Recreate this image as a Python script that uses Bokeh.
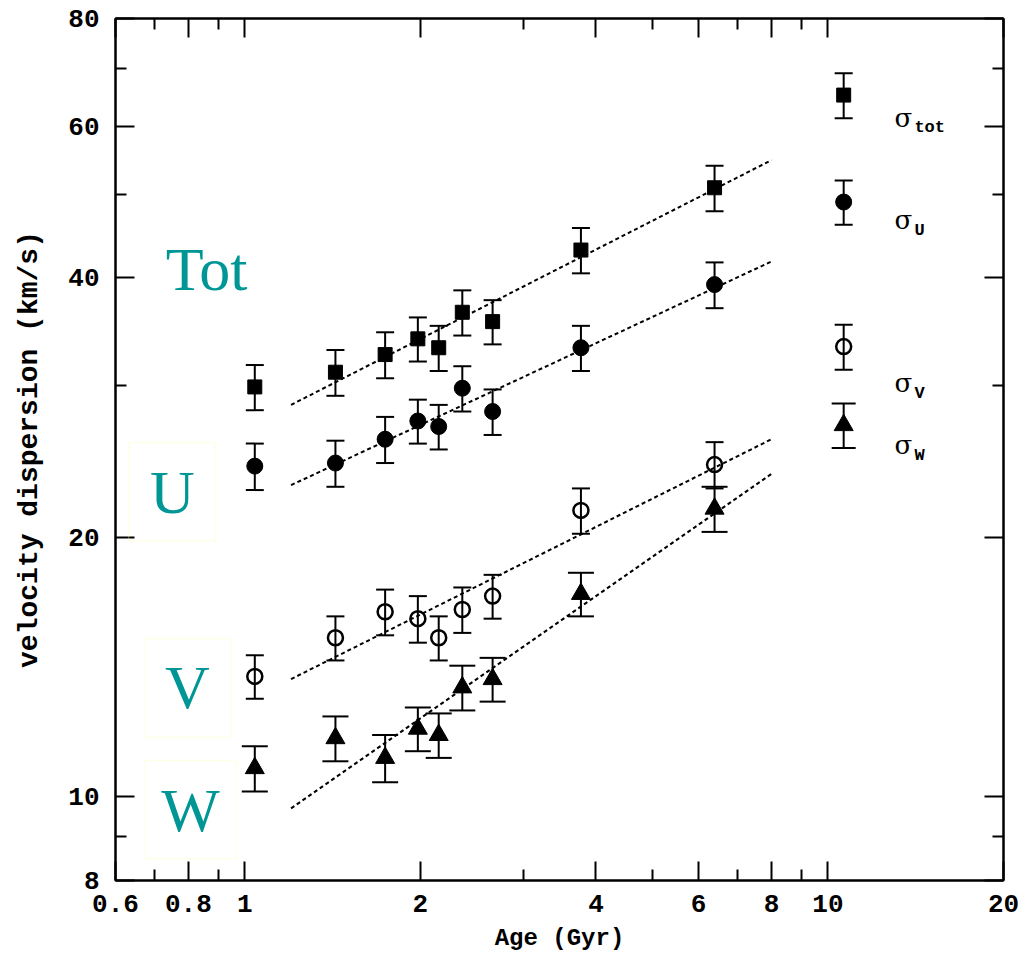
from bokeh.plotting import figure
from bokeh.models import (ColumnDataSource, Whisker, TeeHead, FixedTicker, LogAxis,
                          CustomJSTickFormatter, BoxAnnotation, Label)
from bokeh.embed import file_html
from bokeh.resources import INLINE

# ---- data ----
age = [1.04, 1.43, 1.74, 1.98, 2.15, 2.36, 2.66, 3.77, 6.39]
sig_tot = [29.9, 31.1, 32.6, 34.0, 33.2, 36.5, 35.6, 43.1, 50.9]
err_tot = [1.8, 1.9, 2.0, 2.0, 2.0, 2.2, 2.1, 2.6, 3.1]
sig_u = [24.2, 24.4, 26.0, 27.3, 26.9, 29.8, 28.0, 33.2, 39.3]
err_u = [1.5, 1.5, 1.6, 1.6, 1.6, 1.8, 1.7, 2.0, 2.4]
sig_v = [13.8, 15.3, 16.4, 16.1, 15.3, 16.5, 17.1, 21.5, 24.3]
err_v = [0.8, 0.9, 1.0, 1.0, 0.9, 1.0, 1.0, 1.3, 1.5]
sig_w = [10.8, 11.7, 11.1, 12.0, 11.8, 13.4, 13.7, 17.2, 21.6]
err_w = [0.65, 0.7, 0.7, 0.7, 0.7, 0.8, 0.8, 1.0, 1.3]

# fitted power-law lines (endpoints)
fit_age = [1.2, 8.0]
fit_tot = [28.5, 54.8]
fit_u = [23.0, 41.8]
fit_v = [13.7, 26.0]
fit_w = [9.7, 23.7]

# legend symbols
legend_age = 10.64
legend_sig = [65.2, 49.0, 33.3, 27.0]
legend_err = [3.9, 2.9, 2.0, 1.6]
legend_names = ["tot", "U", "V", "W"]
legend_label_y = [61.4, 46.7, 30.2, 25.6]

x_major = [0.6, 0.8, 1, 2, 4, 6, 8, 10, 20]
x_minor = [0.7, 0.9, 3, 5, 7, 9]
y_major = [8, 10, 20, 40, 60, 80]
y_minor = [9, 30, 50, 70]

TEAL = "#009696"
MONO = "Liberation Mono"

p = figure(width=1030, height=960, x_axis_type="log", y_axis_type="log",
           x_range=(0.6, 20), y_range=(8, 80), output_backend="svg",
           toolbar_location=None, min_border_left=115, min_border_right=27,
           min_border_top=18, min_border_bottom=80)
p.xgrid.visible = False
p.ygrid.visible = False
p.outline_line_color = "black"
p.outline_line_width = 2
p.background_fill_color = "white"

xt = FixedTicker(ticks=x_major, minor_ticks=x_minor)
yt = FixedTicker(ticks=y_major, minor_ticks=y_minor)
fmt = CustomJSTickFormatter(code="return String(tick);")
blank = CustomJSTickFormatter(code="return '';")


def style_axis(ax, labels=True):
    ax.major_tick_in = 19
    ax.major_tick_out = 0
    ax.minor_tick_in = 11
    ax.minor_tick_out = 0
    ax.axis_line_width = 2
    ax.major_tick_line_width = 2
    ax.minor_tick_line_width = 2
    ax.axis_line_color = "black"
    if labels:
        ax.formatter = fmt
        ax.major_label_text_font = MONO
        ax.major_label_text_font_size = "26px"
        ax.major_label_text_font_style = "bold"
        ax.major_label_text_color = "black"
        ax.axis_label_text_font = MONO
        ax.axis_label_text_font_style = "bold"
        ax.axis_label_text_color = "black"
    else:
        ax.formatter = blank
        ax.major_label_text_font_size = "0px"


p.xaxis[0].ticker = xt
p.yaxis[0].ticker = yt
style_axis(p.xaxis[0])
style_axis(p.yaxis[0])
p.xaxis[0].axis_label = "Age (Gyr)"
p.yaxis[0].axis_label = "velocity dispersion (km/s)"
p.xaxis[0].axis_label_text_font_size = "24px"
p.yaxis[0].axis_label_text_font_size = "28px"
p.xaxis[0].major_label_standoff = 14
p.yaxis[0].major_label_standoff = 16
p.xaxis[0].axis_label_standoff = 10
p.yaxis[0].axis_label_standoff = 20

top = LogAxis(ticker=FixedTicker(ticks=x_major, minor_ticks=x_minor))
right = LogAxis(ticker=FixedTicker(ticks=y_major, minor_ticks=y_minor))
style_axis(top, labels=False)
style_axis(right, labels=False)
p.add_layout(top, "above")
p.add_layout(right, "right")

# fitted dotted lines
for fv in (fit_tot, fit_u, fit_v, fit_w):
    p.line(fit_age, fv, line_color="black", line_width=2, line_dash="4 3")


def add_series(xs, ys, es, marker, cap):
    src = ColumnDataSource(dict(x=xs, y=ys,
                                lo=[a - b for a, b in zip(ys, es)],
                                hi=[a + b for a, b in zip(ys, es)]))
    w = Whisker(base="x", lower="lo", upper="hi", source=src, dimension="height",
                line_width=2, line_color="black",
                upper_head=TeeHead(size=cap, line_width=2, line_color="black"),
                lower_head=TeeHead(size=cap, line_width=2, line_color="black"))
    p.add_layout(w)
    if marker == "square":
        p.scatter("x", "y", source=src, marker="square", size=14,
                  fill_color="black", line_color="black")
    elif marker == "circle":
        p.scatter("x", "y", source=src, marker="circle", size=16,
                  fill_color="black", line_color="black")
    elif marker == "open":
        p.scatter("x", "y", source=src, marker="circle", size=15,
                  fill_color=None, line_color="black", line_width=2.5)
    else:
        p.scatter("x", "y", source=src, marker="triangle", size=19,
                  fill_color="black", line_color="black")


add_series(age, sig_tot, err_tot, "square", 18)
add_series(age, sig_u, err_u, "circle", 18)
add_series(age, sig_v, err_v, "open", 18)
add_series(age, sig_w, err_w, "triangle", 26)

markers = ["square", "circle", "open", "triangle"]
caps = [18, 18, 18, 24]
for s, e, m, c in zip(legend_sig, legend_err, markers, caps):
    add_series([legend_age], [s], [e], m, c)

for name, ly in zip(legend_names, legend_label_y):
    p.add_layout(Label(x=13.0, y=ly, text="σ", text_font="DejaVu Serif",
                       text_font_size="26px", text_baseline="middle",
                       text_align="left", text_color="black"))
    p.add_layout(Label(x=13.0, y=ly, x_offset=20, y_offset=-10, text=name,
                       text_font=MONO, text_font_style="bold",
                       text_font_size="17px", text_baseline="middle",
                       text_align="left", text_color="black"))

# component boxes and labels
for l, r, t, b in [(0.632, 0.890, 25.78, 19.83), (0.673, 0.945, 15.27, 11.72),
                   (0.673, 0.967, 11.02, 8.48)]:
    p.add_layout(BoxAnnotation(left=l, right=r, top=t, bottom=b,
                               fill_color=None, line_color="#FFFFB4", line_width=1.5))

for txt, lx, ly in [("Tot", 0.860, 41.0), ("U", 0.751, 22.6),
                    ("V", 0.797, 13.4), ("W", 0.807, 9.65)]:
    p.add_layout(Label(x=lx, y=ly, text=txt, text_font="Liberation Serif",
                       text_font_size="62px", text_color=TEAL,
                       text_align="center", text_baseline="middle"))

open("out.html", "w").write(file_html(p, INLINE))
